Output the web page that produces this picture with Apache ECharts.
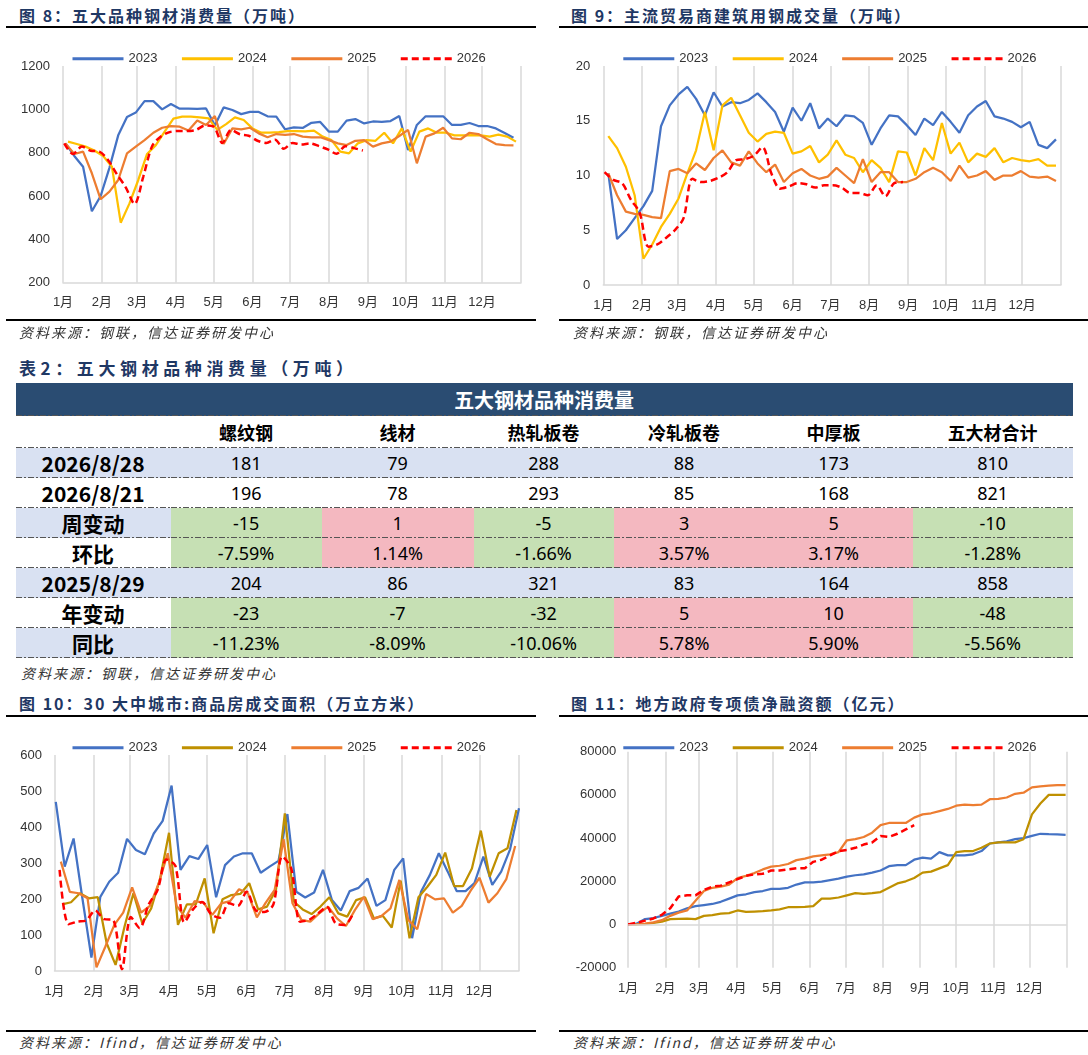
<!DOCTYPE html>
<html>
<head>
<meta charset="utf-8">
<script src="https://cdn.jsdelivr.net/npm/echarts@6.0.0/dist/echarts.min.js"></script>
<style>
  body { margin: 0; width: 1088px; height: 1055px; background: #fff; position: relative; overflow: hidden;
         font-family: "Noto Sans CJK SC", "Noto Sans", sans-serif; }
  .title { position: absolute; font-size: 16px; font-weight: bold; color: #1F3864; letter-spacing: 2px;
           line-height: 20px; white-space: nowrap; }
  .rule { position: absolute; height: 2px; background: #000; }
  .src { position: absolute; font-size: 14px; font-style: italic; color: #333; letter-spacing: 2px;
         line-height: 18px; white-space: nowrap; }
  .chart { position: absolute; }
  #tbl { position: absolute; left: 15.6px; top: 383px; width: 1057px; border-collapse: collapse; table-layout: fixed; }
  #tbl td { padding: 0; text-align: center; vertical-align: middle; line-height: 1; color: #000;
            background-image: repeating-linear-gradient(to right, #555 0 6px, transparent 6px 8px, #555 8px 10px, transparent 10px 12px);
            background-size: 100% 1.5px; background-position: left bottom; background-repeat: no-repeat; }
  #tbl tr.band td { height: 33px; background-color: #2A4C72; color: #fff; font-size: 20px; font-weight: bold; }
  #tbl tr.head td { height: 32px; font-size: 18px; font-weight: bold; }
  #tbl tr.row td { height: 30px; font-size: 18px; font-family: "Noto Sans", "Noto Sans CJK SC", sans-serif; }
  #tbl tr.row td.lab { font-size: 21px; font-weight: bold; font-family: "Noto Sans CJK SC", "Noto Sans", sans-serif; }
</style>
</head>
<body>

<div class="title" style="left:19px;top:5px">图 8：五大品种钢材消费量（万吨）</div>
<div class="rule" style="left:6px;top:26px;width:530px"></div>
<div class="chart" id="c8" style="left:0;top:30px;width:544px;height:290px"></div>
<div class="rule" style="left:6px;top:319px;width:530px"></div>
<div class="src" style="left:19px;top:323px">资料来源：钢联，信达证券研发中心</div>

<div class="title" style="left:571px;top:5px">图 9：主流贸易商建筑用钢成交量（万吨）</div>
<div class="rule" style="left:559px;top:26px;width:529px"></div>
<div class="chart" id="c9" style="left:545px;top:30px;width:543px;height:290px"></div>
<div class="rule" style="left:559px;top:319px;width:529px"></div>
<div class="src" style="left:573px;top:323px">资料来源：钢联，信达证券研发中心</div>

<div class="title" style="left:19px;top:358px;font-size:17px;letter-spacing:4.6px">表2：五大钢材品种消费量（万吨）</div>
<table id="tbl"></table>
<div class="src" style="left:21px;top:664px">资料来源：钢联，信达证券研发中心</div>

<div class="title" style="left:19px;top:693px">图 10：30 大中城市:商品房成交面积（万立方米）</div>
<div class="rule" style="left:6px;top:715px;width:530px"></div>
<div class="chart" id="c10" style="left:0;top:720px;width:544px;height:305px"></div>
<div class="rule" style="left:6px;top:1030px;width:530px"></div>
<div class="src" style="left:19px;top:1033px">资料来源：Ifind，信达证券研发中心</div>

<div class="title" style="left:571px;top:693px">图 11：地方政府专项债净融资额（亿元）</div>
<div class="rule" style="left:559px;top:715px;width:529px"></div>
<div class="chart" id="c11" style="left:545px;top:720px;width:543px;height:305px"></div>
<div class="rule" style="left:559px;top:1030px;width:529px"></div>
<div class="src" style="left:573px;top:1033px">资料来源：Ifind，信达证券研发中心</div>

<script>
const years = ['2023', '2024', '2025', '2026']
const months = ['1月', '2月', '3月', '4月', '5月', '6月', '7月', '8月', '9月', '10月', '11月', '12月']
// 每月起始日（年内第几天），最后一个为年末
const monthStart = [0, 31, 59, 90, 120, 151, 181, 212, 243, 273, 304, 334, 365]

// 图8 五大品种钢材消费量（万吨），周度
const steel2023 = [843, 785, 735, 530, 600, 730, 880, 965, 985, 1038, 1038, 1000, 1025, 1003, 1003, 1002, 1004, 925, 1009, 997, 978, 988, 988, 968, 966, 908, 917, 914, 938, 942, 897, 897, 948, 955, 935, 944, 942, 946, 969, 812, 928, 968, 968, 968, 928, 928, 937, 923, 923, 912, 891, 869]
const steel2024 = [851, 840, 828, 810, 785, 735, 477, 566, 674, 794, 835, 897, 957, 966, 966, 963, 958, 905, 932, 963, 951, 912, 892, 892, 895, 900, 900, 898, 902, 874, 858, 805, 797, 843, 858, 855, 892, 843, 912, 805, 897, 912, 892, 892, 880, 880, 881, 880, 874, 883, 874, 851]
const steel2025 = [843, 794, 805, 705, 585, 620, 674, 797, 828, 858, 892, 915, 923, 920, 902, 948, 928, 969, 840, 912, 908, 915, 889, 871, 886, 882, 886, 874, 871, 871, 858, 843, 835, 855, 858, 828, 843, 851, 877, 905, 751, 874, 889, 915, 866, 862, 892, 886, 862, 840, 835, 834]
const steel2026 = [843, 794, 828, 809, 805, 765, 700, 640, 563, 690, 830, 875, 895, 900, 900, 905, 925, 920, 845, 905, 885, 878, 855, 845, 860, 818, 845, 838, 843, 830, 815, 795, 830, 821, 810]
const steelFirstDay = [2, 4, 2, 1]

// 图9 主流贸易商建筑用钢成交量（万吨）
const trade2023 = [10.2, 4.2, 5.0, 6.1, 7.2, 8.6, 14.5, 16.4, 17.4, 18.1, 17.0, 15.5, 17.6, 16.3, 16.7, 16.6, 16.9, 17.5, 16.7, 15.8, 14.0, 16.2, 15.0, 16.6, 14.3, 15.2, 14.5, 15.5, 15.4, 14.8, 12.8, 14.3, 15.5, 15.4, 14.6, 13.7, 15.2, 14.6, 15.8, 14.9, 13.9, 15.5, 16.3, 16.8, 15.4, 15.2, 14.9, 14.4, 14.9, 12.8, 12.5, 13.3]
const trade2024 = [13.6, 12.5, 10.8, 8.2, 2.4, 3.7, 5.3, 6.5, 7.9, 10.2, 12.3, 15.8, 12.3, 16.4, 17.1, 15.5, 13.9, 13.1, 13.8, 14.0, 13.9, 12.0, 12.2, 12.7, 11.2, 11.9, 13.2, 11.9, 11.6, 10.3, 11.4, 10.7, 9.4, 12.2, 12.1, 10.0, 12.5, 11.4, 14.8, 12.0, 13.0, 11.2, 12.0, 11.7, 12.5, 11.2, 11.6, 11.4, 11.3, 11.5, 10.9, 10.9]
const trade2025 = [10.2, 8.2, 6.7, 6.5, 6.4, 6.2, 6.1, 10.4, 10.6, 10.2, 11.1, 10.5, 11.6, 12.3, 11.2, 10.9, 12.2, 11.1, 10.3, 11.0, 9.4, 10.2, 10.6, 10.0, 9.7, 9.9, 10.7, 10.0, 9.3, 11.5, 9.4, 10.3, 10.3, 9.4, 9.4, 9.7, 10.3, 10.7, 10.3, 9.5, 10.9, 9.8, 10.0, 10.4, 9.6, 10.0, 10.0, 10.4, 9.9, 9.8, 9.9, 9.5]
const trade2026 = [10.3, 9.6, 9.3, 7.8, 6.6, 3.5, 3.7, 4.3, 5.0, 6.1, 9.7, 9.4, 9.5, 9.8, 10.3, 11.4, 11.5, 11.8, 12.6, 10.2, 8.8, 9.0, 9.3, 9.2, 8.9, 9.1, 9.1, 8.9, 8.4, 8.4, 8.2, 9.1, 8.1, 9.3, 9.4]
const tradeFirstDay = [4, 4, 4, 1]

// 图10 30大中城市商品房成交面积（万平方米）
const house2023 = [470, 290, 368, 200, 37, 206, 248, 273, 367, 336, 324, 382, 417, 515, 281, 319, 311, 350, 205, 294, 318, 327, 327, 273, 290, 306, 436, 220, 204, 218, 281, 197, 168, 222, 231, 257, 181, 197, 281, 313, 91, 220, 267, 327, 276, 222, 222, 244, 318, 239, 276, 338, 452]
const house2024 = [185, 191, 216, 202, 205, 77, 17, 123, 216, 132, 174, 257, 384, 128, 185, 185, 257, 105, 199, 211, 214, 244, 171, 179, 225, 438, 193, 171, 158, 179, 205, 160, 151, 197, 205, 146, 153, 121, 251, 91, 205, 234, 267, 329, 236, 236, 285, 390, 262, 327, 341, 447]
const house2025 = [304, 220, 216, 202, 10, 68, 128, 162, 232, 162, 181, 245, 327, 181, 148, 194, 190, 156, 188, 194, 227, 216, 149, 190, 225, 366, 188, 142, 137, 160, 179, 146, 125, 169, 206, 144, 153, 174, 253, 142, 116, 214, 199, 202, 162, 181, 223, 259, 190, 216, 255, 347]
const house2026 = [281, 130, 137, 141, 168, 144, 142, 5, 150, 119, 185, 225, 310, 292, 135, 172, 192, 158, 148, 188, 181, 220, 169, 164, 185, 318, 285, 137, 142, 160, 178, 132, 128, 162]
const houseFirstDay = [1, 6, 5, 4]

// 图11 地方政府专项债净融资额累计（亿元）
const bond2023 = [0, 400, 2500, 3000, 4000, 5000, 6000, 7500, 8500, 9000, 9500, 10500, 12000, 13500, 14000, 15000, 15500, 16500, 16500, 17000, 18500, 19500, 19500, 19800, 20500, 21200, 22200, 22800, 23200, 24000, 25000, 27000, 27500, 27500, 30000, 31000, 30500, 33500, 32000, 32000, 32000, 32500, 34000, 37500, 38000, 38500, 39500, 40000, 41000, 42000, 41800, 41700, 41500]
const bond2024 = [0, 0, 200, 700, 1300, 2500, 2600, 2700, 2500, 4000, 4300, 5000, 5300, 6500, 5800, 6000, 6200, 6500, 7000, 8000, 8000, 8200, 8500, 12000, 12000, 12500, 13500, 14500, 14200, 14500, 15000, 17000, 19000, 20000, 21500, 24000, 24500, 26000, 27500, 33500, 34000, 34000, 35500, 37500, 38000, 38000, 38000, 39500, 51000, 56000, 60000, 60000, 60000]
const bond2025 = [0, 100, 400, 1000, 2000, 4000, 5500, 6500, 11000, 15500, 17000, 17500, 18500, 21500, 22500, 23800, 25500, 26800, 27200, 28000, 29800, 30500, 31500, 32000, 32500, 33500, 39000, 39500, 40500, 42500, 46000, 47000, 47000, 47000, 49500, 51000, 51500, 52500, 53500, 55000, 55500, 55300, 55500, 58000, 58200, 58800, 60500, 61000, 63500, 64000, 64300, 64500, 64500]
const bond2026 = [0, 800, 1800, 2800, 4500, 7500, 13000, 13500, 13500, 16000, 17500, 18000, 19500, 21000, 22500, 23200, 23500, 25000, 25000, 25500, 26000, 26000, 29000, 30000, 32000, 34000, 34500, 35500, 37000, 38000, 41000, 40500, 42000, 44000, 46000]
const bondFirstDay = [0, 0, 0, 0]

// 表2
const tableCols = ['螺纹钢', '线材', '热轧板卷', '冷轧板卷', '中厚板', '五大材合计']
const rowLabels = ['2026/8/28', '2026/8/21', '周变动', '环比', '2025/8/29', '年变动', '同比']
const rowThisWeek = [181, 79, 288, 88, 173, 810]
const rowLastWeek = [196, 78, 293, 85, 168, 821]
const rowWeekChange = [-15, 1, -5, 3, 5, -10]
const rowWeekPct = ['-7.59%', '1.14%', '-1.66%', '3.57%', '3.17%', '-1.28%']
const rowLastYear = [204, 86, 321, 83, 164, 858]
const rowYearChange = [-23, -7, -32, 5, 10, -48]
const rowYearPct = ['-11.23%', '-8.09%', '-10.06%', '5.78%', '5.90%', '-5.56%']

const colWidths = [155, 151, 152, 140, 141, 158, 160]
const LAVENDER = '#D9E1F2'
const GREEN = '#C6E0B4'
const PINK = '#F4B8C0'

function buildTable() {
  const rows = [
    { values: rowThisWeek, signed: false },
    { values: rowLastWeek, signed: false },
    { values: rowWeekChange, signed: true },
    { values: rowWeekPct, signed: true },
    { values: rowLastYear, signed: false },
    { values: rowYearChange, signed: true },
    { values: rowYearPct, signed: true }
  ]
  let html = '<colgroup>' + colWidths.map(w => '<col style="width:' + w + 'px">').join('') + '</colgroup>'
  html += '<tr class="band"><td colspan="7">五大钢材品种消费量</td></tr>'
  html += '<tr class="head"><td></td>' + tableCols.map(c => '<td>' + c + '</td>').join('') + '</tr>'
  rows.forEach((row, r) => {
    const shade = r % 2 === 0 ? LAVENDER : '#fff'
    html += '<tr class="row"><td class="lab" style="background-color:' + shade + '">' + rowLabels[r] + '</td>'
    row.values.forEach(v => {
      let bg = r === 4 || r === 0 ? LAVENDER : '#fff'
      if (row.signed) bg = parseFloat(v) < 0 ? GREEN : PINK
      html += '<td style="background-color:' + bg + '">' + v + '</td>'
    })
    html += '</tr>'
  })
  document.getElementById('tbl').innerHTML = html
}

function makeChart(id, cfg) {
  const chart = echarts.init(document.getElementById(id))
  const font = 'Liberation Sans, Arial, Noto Sans CJK SC'
  const series = cfg.values.map((vals, k) => {
    const dashed = k === 3
    return {
      name: years[k],
      type: 'line',
      symbol: 'none',
      showSymbol: false,
      smooth: dashed ? cfg.smooth : false,
      animation: false,
      itemStyle: { color: cfg.colors[k] },
      lineStyle: { color: cfg.colors[k], width: dashed ? 2.5 : 2.25, type: dashed ? [7, 4] : 'solid' },
      data: vals.map((v, i) => [cfg.firstDay[k] + 7 * i, v])
    }
  })
  if (cfg.zeroLine) {
    series[0].markLine = {
      silent: true, symbol: 'none', animation: false,
      label: { show: false },
      lineStyle: { color: '#D9D9D9', width: 1.5, type: 'solid' },
      data: [{ yAxis: 0 }]
    }
  }
  chart.setOption({
    animation: false,
    legend: {
      left: cfg.legendLeft, top: cfg.legendTop,
      itemWidth: 51, itemHeight: 12, itemGap: 23,
      // 图例只显示线段，不显示折线默认的圆点
      itemStyle: { opacity: 0 },
      lineStyle: { width: 3 },
      textStyle: { fontSize: 13, color: '#333', fontFamily: font },
      data: years
    },
    grid: cfg.grid,
    xAxis: {
      type: 'value', min: 0, max: 365,
      axisLine: { show: !cfg.zeroLine, onZero: false, lineStyle: { color: '#D9D9D9', width: 1.5 } },
      axisTick: { show: false, customValues: monthStart },
      axisLabel: {
        customValues: monthStart.slice(0, 12),
        formatter: v => months[monthStart.indexOf(v)],
        margin: cfg.xMargin, fontSize: 13, color: '#333', fontFamily: font
      },
      splitLine: { show: true, lineStyle: { color: '#D9D9D9', width: 1.5 } }
    },
    yAxis: {
      type: 'value', min: cfg.yMin, max: cfg.yMax, interval: cfg.yStep,
      axisLine: { show: false }, axisTick: { show: false }, splitLine: { show: false },
      axisLabel: { margin: cfg.yMargin, fontSize: 13, color: '#333', fontFamily: font, formatter: v => String(v) }
    },
    series: series
  })
  return chart
}

const brightColors = ['#4472C4', '#FFC000', '#ED7D31', '#FF0000']
const darkColors = ['#4472C4', '#BF9000', '#ED7D31', '#FF0000']

buildTable()

makeChart('c8', {
  values: [steel2023, steel2024, steel2025, steel2026], firstDay: steelFirstDay, colors: brightColors,
  grid: { left: 63, top: 36, width: 458, height: 216.7 },
  legendLeft: 66, legendTop: 17.3, xMargin: 13, yMargin: 13, smooth: 0.3,
  yMin: 200, yMax: 1200, yStep: 200
})
makeChart('c9', {
  values: [trade2023, trade2024, trade2025, trade2026], firstDay: tradeFirstDay, colors: brightColors,
  grid: { left: 58.3, top: 36, width: 457.7, height: 219 },
  legendLeft: 71.8, legendTop: 17.3, xMargin: 13.5, yMargin: 13, smooth: 0.3,
  yMin: 0, yMax: 20, yStep: 5
})
makeChart('c10', {
  values: [house2023, house2024, house2025, house2026], firstDay: houseFirstDay, colors: darkColors,
  grid: { left: 54.5, top: 35, width: 464.5, height: 216 },
  legendLeft: 66, legendTop: 16.3, xMargin: 14, yMargin: 12.5, smooth: 0.3,
  yMin: 0, yMax: 600, yStep: 100
})
makeChart('c11', {
  values: [bond2023, bond2024, bond2025, bond2026], firstDay: bondFirstDay, colors: darkColors,
  grid: { left: 83.2, top: 31.7, width: 438.6, height: 216 },
  legendLeft: 71.8, legendTop: 16.3, xMargin: 14, yMargin: 12, smooth: false, zeroLine: true,
  yMin: -20000, yMax: 80000, yStep: 20000
})
</script>
</body>
</html>
